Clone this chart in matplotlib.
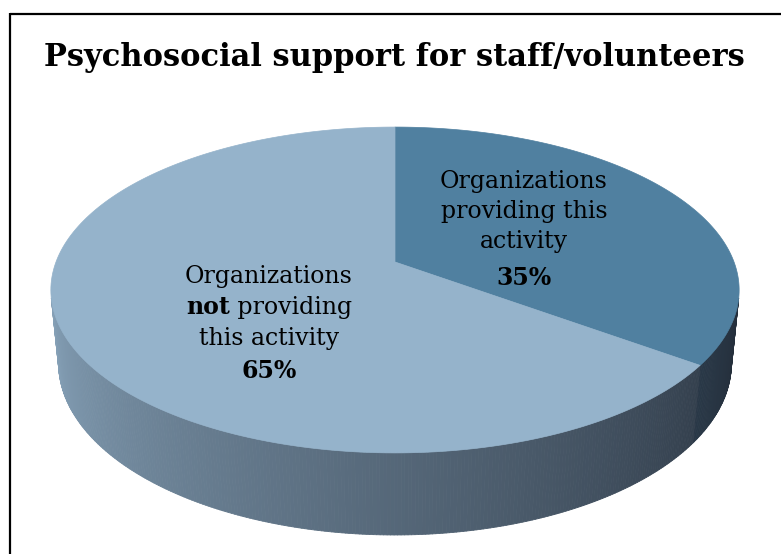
import numpy as np
import matplotlib
matplotlib.use("Agg")
import matplotlib.pyplot as plt
from matplotlib.collections import PolyCollection
from matplotlib.patches import Polygon

# ---- data ----
title = "Psychosocial support for staff/volunteers"
values = [35, 65]
pct_labels = ["35%", "65%"]
colors = [(80, 128, 160), (149, 179, 203)]

# ---- layout / style ----
W, H_PX = 781, 554
fig = plt.figure(figsize=(W / 100, H_PX / 100), dpi=100)
ax = fig.add_axes([0, 0, 1, 1])
ax.set_xlim(0, W)
ax.set_ylim(H_PX, 0)
ax.axis("off")

# perspective camera for the 3D pie
CX, CY = 395, 262
phi = np.radians(27.8)
c, s = np.cos(phi), np.sin(phi)
D = 5.15
F = 1746.0
THICK = 0.247
SHADOW = np.array([35, 44, 56])


def proj(X, Y, Z):
    den = D - c * Y - s * Z
    return CX + F * X / den, CY + F * (s * Y - c * Z) / den


def pt(theta, z=0.0):
    # theta: degrees clockwise from 12 o'clock; Y positive toward viewer
    t = np.radians(theta)
    return proj(np.sin(t), -np.cos(t), z)


fr = np.array(values, dtype=float) / np.sum(values)
bounds = np.concatenate([[0], np.cumsum(fr) * 360])

# visible side range
lim = np.degrees(np.arccos(-1.0 / (D * c)))
vis_lo, vis_hi = lim, 360 - lim

# sides
polys, pcols = [], []
for i in range(len(values)):
    a0, a1 = max(bounds[i], vis_lo), min(bounds[i + 1], vis_hi)
    if a1 <= a0:
        continue
    n = max(2, int((a1 - a0) / 0.5))
    th = np.linspace(a0, a1, n + 1)
    base = np.array(colors[i], dtype=float)
    for k in range(n):
        ta, tb = th[k], th[k + 1]
        xa, ya = pt(ta)
        xb, yb = pt(tb)
        xb2, yb2 = pt(tb, -THICK)
        xa2, ya2 = pt(ta, -THICK)
        polys.append([(xa, ya), (xb, yb), (xb2, yb2), (xa2, ya2)])
        tm = 0.5 * (ta + tb)
        w = np.clip(0.56 + (180 - tm) * 0.0054, 0, 0.97)
        col = (base * (1 - w) + SHADOW * w) / 255
        pcols.append(col)
pc = PolyCollection(polys, facecolors=pcols, edgecolors=pcols, linewidths=0.6)
ax.add_collection(pc)

# top faces
for i in range(len(values)):
    th = np.linspace(bounds[i], bounds[i + 1], 200)
    pts = [proj(0, 0, 0)] + [pt(t) for t in th]
    ax.add_patch(Polygon(pts, closed=True, facecolor=np.array(colors[i]) / 255,
                         edgecolor=np.array(colors[i]) / 255, linewidth=0.5))

# title
ax.text(394, 66, title, ha="center", va="baseline", fontsize=22,
        fontweight="bold", family="DejaVu Serif", color="black")

# labels
LF = dict(family="DejaVu Serif", fontsize=17, color="black")
lines_a = ["Organizations", "providing this", "activity"]
ya = [188, 218, 248]
for t, y in zip(lines_a, ya):
    ax.text(524, y, t, ha="center", va="baseline", **LF)
ax.text(524, 285, pct_labels[0], ha="center", va="baseline", fontweight="bold", **LF)

ax.text(269, 283, "Organizations", ha="center", va="baseline", **LF)
r = fig.canvas.get_renderer()
t1 = ax.text(0, 314, "not", ha="left", va="baseline", fontweight="bold", **LF)
t2 = ax.text(0, 314, " providing", ha="left", va="baseline", **LF)
w1 = t1.get_window_extent(r).width
w2 = t2.get_window_extent(r).width
left = 269 - (w1 + w2) / 2
t1.set_x(left)
t2.set_x(left + w1)
ax.text(269, 345, "this activity", ha="center", va="baseline", **LF)
ax.text(269, 378, pct_labels[1], ha="center", va="baseline", fontweight="bold", **LF)

# frame (top and left visible)
ax.plot([10, W], [14, 14], color="black", lw=1.6, solid_capstyle="butt")
ax.plot([10, 10], [13.2, H_PX], color="black", lw=1.6, solid_capstyle="butt")

fig.savefig("out.png", dpi=100)
